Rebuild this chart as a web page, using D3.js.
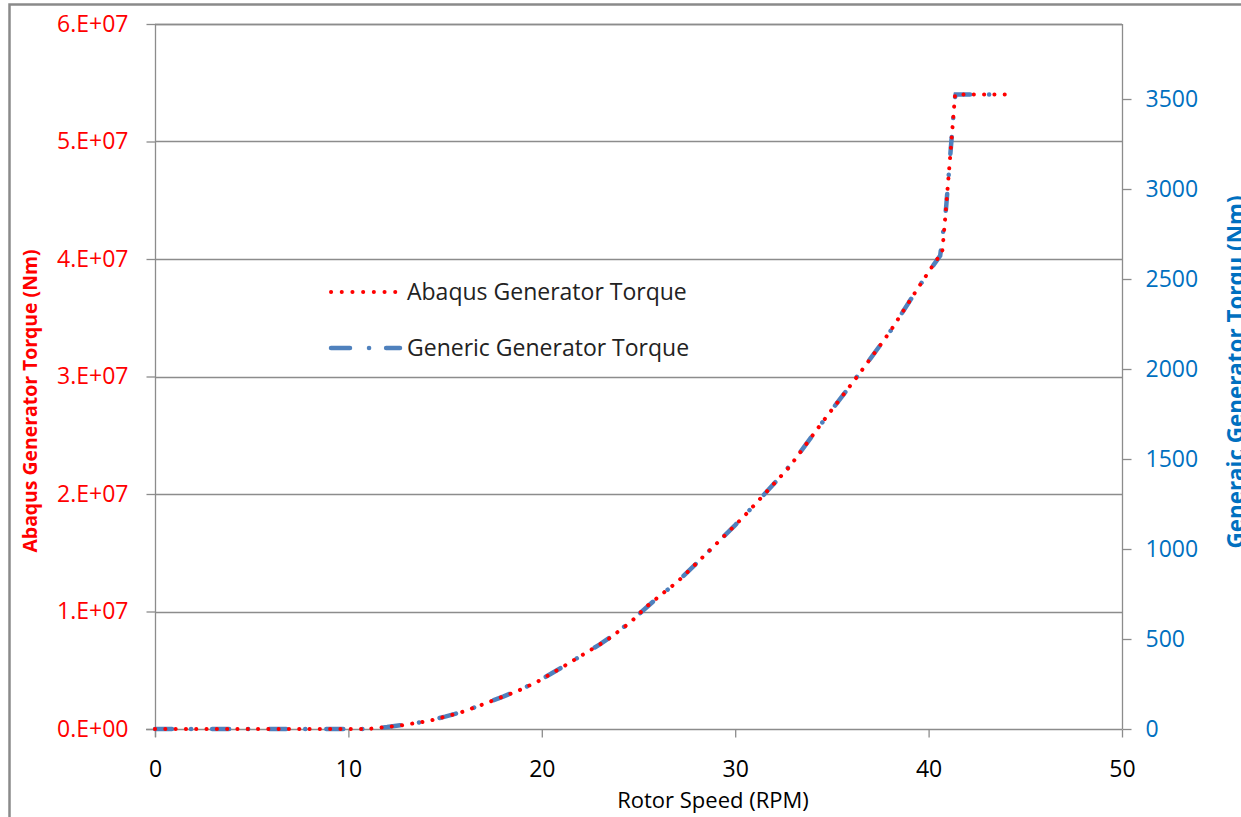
<!DOCTYPE html>
<html><head><meta charset="utf-8">
<script src="https://cdn.jsdelivr.net/npm/d3@7"></script>
<style>
html,body{margin:0;padding:0;background:#fff;}
text{font-family:"Open Sans","Noto Sans",sans-serif;}
</style></head>
<body>
<svg id="chart" width="1241" height="817"></svg>
<script>
// ---- data ----
const abaqusRpm = [0, 2, 4, 6, 8, 10, 11, 11.6, 12.7, 14.2, 15.8, 16.8, 18.7, 19.75, 21.1, 22.0, 23.4, 24.6, 25.4, 26.6, 27.0, 29.05, 30.4, 32.8, 34.5, 36.45, 38.0, 39.4, 40.4, 40.7, 40.85, 41.1, 41.37, 42.5, 44.1];
const abaqusTorque = [0, 0, 0, 0, 0, 0, 0, 1.0e5, 3.0e5, 7.0e5, 1.4e6, 2.0e6, 3.2e6, 4.0e6, 5.3e6, 6.2e6, 7.6e6, 9.1e6, 1.04e7, 1.20e7, 1.25e7, 1.58e7, 1.80e7, 2.23e7, 2.61e7, 3.03e7, 3.38e7, 3.74e7, 3.99e7, 4.05e7, 4.33e7, 4.84e7, 5.40e7, 5.40e7, 5.40e7];
const genericRpm = [0, 3, 6, 9, 11, 12, 13, 14, 15, 16, 17, 18, 19, 20, 21, 22, 23, 24, 25, 26, 27, 28, 29, 30, 31, 32, 33, 34, 35, 36, 37, 38, 39, 40, 40.6, 40.9, 41.2, 41.35, 41.4, 44.1];
const genericTorque = [0, 0, 0, 0, 0, 11, 25, 42, 69, 99, 139, 180, 224, 277, 340, 405, 470, 545, 636, 731, 816, 921, 1026, 1133, 1245, 1362, 1485, 1631, 1774, 1915, 2059, 2206, 2374, 2539, 2630, 2890, 3295, 3500, 3525, 3525];
const xTicks = [0, 10, 20, 30, 40, 50];
const leftTicks = [0, 1e7, 2e7, 3e7, 4e7, 5e7, 6e7];
const leftTickLabels = ["0.E+00", "1.E+07", "2.E+07", "3.E+07", "4.E+07", "5.E+07", "6.E+07"];
const rightTicks = [0, 500, 1000, 1500, 2000, 2500, 3000, 3500];
const rightMax = 3916.7;
const seriesNames = ["Abaqus Generator Torque", "Generic Generator Torque"];
const xTitle = "Rotor Speed (RPM)";
const leftTitle = "Abaqus Generator Torque (Nm)";
const rightTitle = "Generaic Generator Torqu (Nm)";

// ---- layout ----
const svg = d3.select("#chart");
const L = 155, R = 1122, T = 24, B = 729;
const FS = 23;
const x = d3.scaleLinear().domain([0, 50]).range([L, R]);
const yL = d3.scaleLinear().domain([0, 6e7]).range([B, T]);
const yR = d3.scaleLinear().domain([0, rightMax]).range([B, T]);
const gridCol = "#8c8c8c";

svg.append("rect").attr("x", 0).attr("y", 0).attr("width", 1241).attr("height", 817).attr("fill", "#fff");
// outer chart border
svg.append("rect").attr("x", 9.5).attr("y", 4.5).attr("width", 1400).attr("height", 1000)
  .attr("fill", "none").attr("stroke", "#8a8a8a").attr("stroke-width", 2.5);

// gridlines
svg.append("g").selectAll("line").data(leftTicks.slice(1)).join("line")
  .attr("x1", L).attr("x2", R).attr("y1", d => Math.round(yL(d)) + 0.5).attr("y2", d => Math.round(yL(d)) + 0.5)
  .attr("stroke", gridCol).attr("stroke-width", 1.3);

// left axis
const axL = d3.axisLeft(yL).tickValues(leftTicks).tickSize(9).tickPadding(18)
  .tickFormat((d, i) => leftTickLabels[i]);
const gL = svg.append("g").attr("transform", `translate(${L + 0.5},0)`).call(axL);
gL.select(".domain").attr("d", `M0,${T}V${B + 8}`).attr("stroke", gridCol).attr("stroke-width", 1.3);
gL.selectAll(".tick line").attr("stroke", gridCol).attr("stroke-width", 1.3);
gL.selectAll(".tick text").attr("fill", "#ff0000").attr("font-size", FS).attr("font-family", "Open Sans");

// right axis
const axR = d3.axisRight(yR).tickValues(rightTicks).tickSize(9).tickPadding(14).tickFormat(d3.format("d"));
const gR = svg.append("g").attr("transform", `translate(${R + 0.5},0)`).call(axR);
gR.select(".domain").attr("d", `M0,${T}V${B}`).attr("stroke", gridCol).attr("stroke-width", 1.3);
gR.selectAll(".tick line").attr("stroke", gridCol).attr("stroke-width", 1.3);
gR.selectAll(".tick text").attr("fill", "#0070c0").attr("font-size", FS).attr("font-family", "Open Sans");

// bottom axis
const axB = d3.axisBottom(x).tickValues(xTicks).tickSize(8).tickPadding(23);
const gB = svg.append("g").attr("transform", `translate(0,${B + 0.5})`).call(axB);
gB.select(".domain").attr("d", `M${L - 9},0H${R}`).attr("stroke", gridCol).attr("stroke-width", 1.3);
gB.selectAll(".tick line").attr("stroke", gridCol).attr("stroke-width", 1.3);
gB.selectAll(".tick text").attr("fill", "#000").attr("font-size", FS).attr("font-family", "Open Sans");

// top border of plot area
svg.append("line").attr("x1", L).attr("x2", R).attr("y1", T + 0.5).attr("y2", T + 0.5)
  .attr("stroke", gridCol).attr("stroke-width", 1.3);

// titles
svg.append("text").attr("x", 713).attr("y", 808).attr("text-anchor", "middle")
  .attr("font-size", 22).attr("fill", "#000").text(xTitle);
svg.append("text").attr("transform", "translate(37,401) rotate(-90)").attr("text-anchor", "middle")
  .attr("font-size", 19.4).attr("font-weight", "bold").attr("fill", "#ff0000").text(leftTitle);
svg.append("text").attr("transform", "translate(1244,372) rotate(-90)").attr("text-anchor", "middle")
  .attr("font-size", 22.4).attr("font-weight", "bold").attr("fill", "#0070c0").text(rightTitle);

// series
const redStyle = {stroke: "#ff0000", w: 4, dash: "0.1 10.2"};
const blueStyle = {stroke: "#4f81bd", w: 4.5, dash: "17 19 0.1 21"};
const lineA = d3.line().x((d, i) => x(abaqusRpm[i])).y(d => yL(d));
const lineG = d3.line().x((d, i) => x(genericRpm[i])).y(d => yR(d));
svg.append("path").attr("d", lineG(genericTorque)).attr("fill", "none")
  .attr("stroke", blueStyle.stroke).attr("stroke-width", blueStyle.w).attr("stroke-linecap", "round")
  .attr("stroke-dasharray", blueStyle.dash);
svg.append("path").attr("d", lineA(abaqusTorque)).attr("fill", "none")
  .attr("stroke", redStyle.stroke).attr("stroke-width", redStyle.w).attr("stroke-linecap", "round")
  .attr("stroke-dasharray", redStyle.dash);

// legend
const leg = svg.append("g");
const legY = [292, 348];
const styles = [redStyle, blueStyle];
seriesNames.forEach((n, i) => {
  leg.append("line").attr("x1", 331).attr("x2", 400).attr("y1", legY[i]).attr("y2", legY[i])
    .attr("stroke", styles[i].stroke).attr("stroke-width", styles[i].w).attr("stroke-linecap", "round")
    .attr("stroke-dasharray", i === 0 ? "0.1 10.6" : "19 19 0.1 17");
  leg.append("text").attr("x", 407).attr("y", legY[i]).attr("dy", "0.35em")
    .attr("font-size", FS).attr("fill", "#222").text(n);
});
</script>
</body></html>
